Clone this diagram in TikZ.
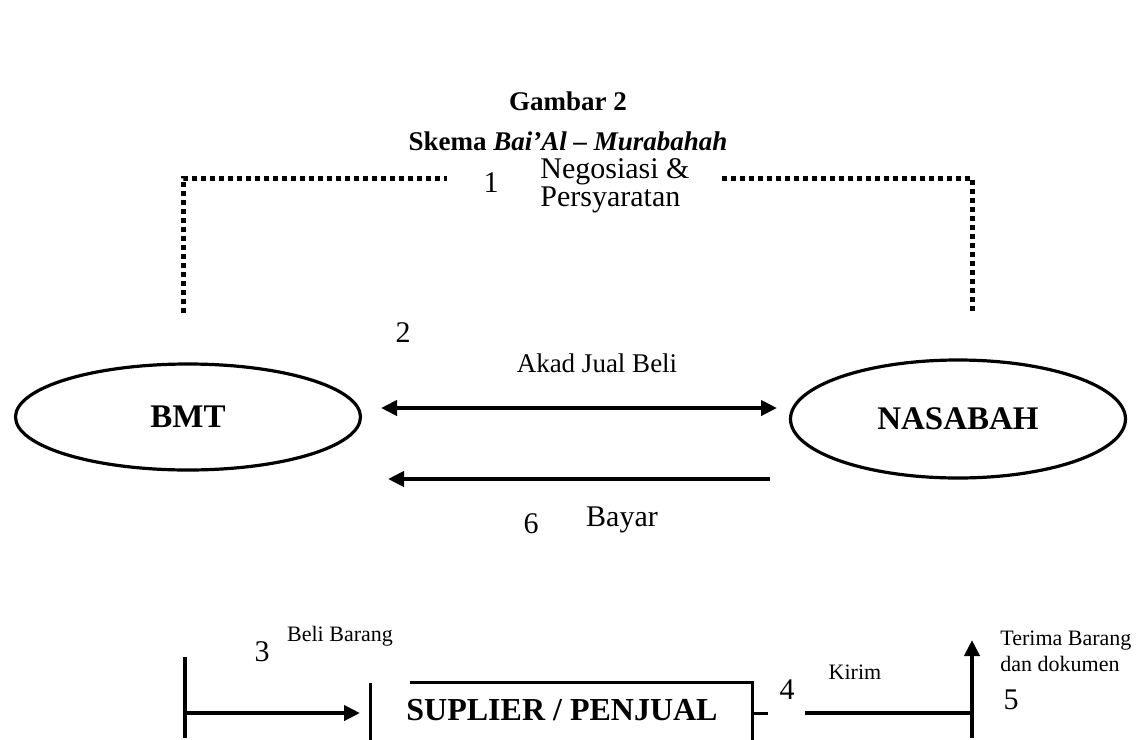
\documentclass[tikz,border=0pt]{standalone}
\usepackage{fontspec}
\setmainfont{Liberation Serif}
\usetikzlibrary{positioning,calc,arrows.meta,shapes.geometric}

\tikzset{
  >={Triangle[length=8pt,width=7.5pt]},
  party/.style={ellipse, draw, line width=1.6pt, inner sep=0pt, font=\fontsize{16.5}{18}\selectfont\bfseries},
  lbl/.style={font=\fontsize{15}{17}\selectfont, inner sep=0pt},
  smalllbl/.style={font=\fontsize{11}{13}\selectfont, inner sep=0pt, align=left},
  ttl/.style={font=\fontsize{13.5}{15}\selectfont\bfseries},
  flow/.style={line width=2pt, ->},
  bar/.style={line width=2.2pt},
  frame/.style={line width=1.5pt},
  dots/.style={line width=2.5pt, dash pattern=on 2.5pt off 2pt},
}

\begin{document}
\begin{tikzpicture}[x=0.5pt,y=-0.5pt]
	\useasboundingbox (0,0) rectangle (1137,740);

	% judul
	\node[ttl] (judul) at (568,101) {Gambar 2};
	\node[ttl] (skema) at (568,141) {Skema \textit{Bai’Al – Murabahah}};

	% pihak
	\node[party, minimum width=172.5pt, minimum height=53pt] (bmt) at (188,417) {BMT};
	\node[party, minimum width=167.5pt, minimum height=59pt] (nasabah) at (958,419) {NASABAH};
	\node[font=\fontsize{16}{18}\selectfont\bfseries, inner sep=0pt] (sup) at (562,710) {SUPLIER / PENJUAL};

	% kotak suplier (terpotong di bawah)
	\coordinate (supL1) at (370,683);
	\coordinate (supL2) at (370,740);
	\coordinate (supTL) at (410,682);
	\coordinate (supTR) at (752,682);
	\coordinate (supBR) at (752,740);
	\draw[frame] (supL1) -- (supL2);
	\draw[frame] (supTL) -- (supTR) -- (supBR);

	% 1 negosiasi
	\coordinate (dotL1) at (183,313);
	\coordinate (dotL2) at (183,178);
	\coordinate (dotL3) at (447,178);
	\coordinate (dotR1) at (722,178);
	\coordinate (dotR2) at (972,178);
	\coordinate (dotR3) at (972,313);
	\draw[dots] (dotL1) -- (dotL2) -- (dotL3);
	\draw[dots] (dotR1) -- (dotR2) -- (dotR3);
	\node[lbl] (n1) at (491,183) {1};
	\node[lbl, anchor=west] (nego) at (540,172) {Negosiasi \&};
	\node[lbl, anchor=west] (syarat) at (540,200) {Persyaratan};

	% 2 akad
	\coordinate (akadL) at (381,408);
	\coordinate (akadR) at (777,408);
	\draw[line width=2pt, <->] (akadL) -- (akadR);
	\node[lbl] (n2) at (403,333) {2};
	\node[lbl, font=\fontsize{13.5}{15}\selectfont] (akad) at (597,363) {Akad Jual Beli};

	% 6 bayar
	\coordinate (bayarR) at (770,479);
	\coordinate (bayarL) at (388,479);
	\draw[flow] (bayarR) -- (bayarL);
	\node[lbl] (n6) at (531,524) {6};
	\node[lbl] (bayar) at (622,520) {Bayar};

	% 3 beli barang
	\coordinate (beliT) at (185,657);
	\coordinate (beliB) at (185,738);
	\coordinate (beliA) at (185,713);
	\coordinate (beliE) at (360,713);
	\draw[bar] (beliT) -- (beliB);
	\draw[flow] (beliA) -- (beliE);
	\node[smalllbl] (beli) at (340,636) {Beli Barang};
	\node[lbl] (n3) at (262,652) {3};

	% 4 kirim, 5 terima
	\coordinate (kirimA) at (768,713);
	\coordinate (kirimB) at (805,713);
	\coordinate (terimaB) at (972,738);
	\coordinate (terimaJ) at (972,713);
	\coordinate (terimaT) at (972,640);
	\draw[frame] (supTR |- kirimA) -- (kirimA);
	\draw[line width=2pt] (kirimB) -- (terimaJ);
	\draw[flow] (terimaB) -- (terimaT);
	\node[smalllbl] (kirim) at (855,672) {Kirim};
	\node[lbl] (n4) at (787,690) {4};
	\node[smalllbl, anchor=west] (terima) at (1000,651) {Terima Barang\\dan dokumen};
	\node[lbl] (n5) at (1011,700) {5};
\end{tikzpicture}
\end{document}
